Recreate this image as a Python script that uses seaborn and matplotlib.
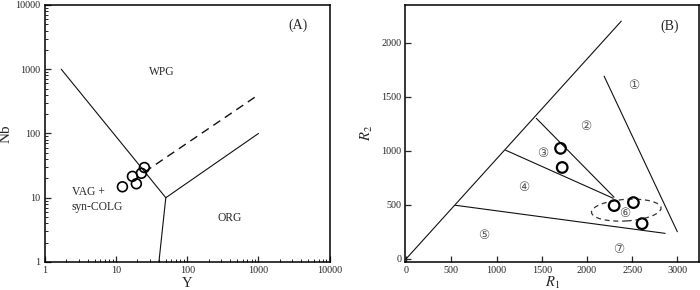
import numpy as np
import pandas as pd
import matplotlib
matplotlib.use("Agg")
import matplotlib.pyplot as plt
from matplotlib.patches import Ellipse
import seaborn as sns

# ---------------- data ----------------
# Panel A: Nb vs Y (log-log)
a_y = [12.3, 17.0, 19.3, 22.7, 25.0]
a_nb = [14.8, 21.5, 16.5, 24.0, 29.5]
# boundary lines (Pearce et al. 1984)
a_line1_y = [1.7, 50]
a_line1_nb = [1000, 10]
a_line2_y = [50, 1000]
a_line2_nb = [10, 100]
a_line3_y = [50, 40]
a_line3_nb = [10, 1]
a_dash_y = [25, 1000]
a_dash_nb = [25, 400]
a_labels = ["WPG", "VAG +\nsyn-COLG", "ORG"]
a_label_x = [44, 2.4, 390]
a_label_yv = [900, 9.3, 4.9]

# Panel B: R1-R2
b_r1 = [1708, 1726, 2301, 2514, 2610]
b_r2 = [1022, 845, 492, 520, 325]
b_lines = {
    "diag": ([0, 2380], [0, 2200]),
    "l1": ([2190, 3000], [1690, 250]),
    "l2": ([1440, 2300], [1300, 570]),
    "l3": ([1100, 2290], [1005, 560]),
    "l4": ([545, 2865], [495, 235]),
}
ell_center = (2435, 450)
ell_w, ell_h, ell_angle = 770, 200, 3
b_labels = ["①", "②", "③", "④", "⑤", "⑥", "⑦"]
b_label_x = [2521, 1988, 1509, 1299, 854, 2418, 2348]
b_label_y = [1601, 1223, 978, 659, 211, 421, 90]

# ---------------- style ----------------
sns.set_style("ticks")
plt.rcParams["font.family"] = ["Liberation Serif", "DejaVu Sans"]
plt.rcParams["mathtext.fontset"] = "stix"

fig = plt.figure(figsize=(7, 2.9), dpi=100)
axA = fig.add_axes([0.064, 0.0966, 0.407, 0.8864])
axB = fig.add_axes([0.579, 0.0966, 0.4196, 0.8864])

lc = "#111111"
for ax in (axA, axB):
    for s in ax.spines.values():
        s.set_linewidth(1.1)
        s.set_color("black")

# ---- Panel A ----
axA.set_xscale("log")
axA.set_yscale("log")
axA.set_xlim(1, 10000)
axA.set_ylim(1, 10000)
axA.plot(a_line1_y, a_line1_nb, color=lc, lw=0.8)
axA.plot(a_line2_y, a_line2_nb, color=lc, lw=0.8)
axA.plot(a_line3_y, a_line3_nb, color=lc, lw=0.8)
axA.plot(a_dash_y, a_dash_nb, color=lc, lw=1.0, ls=(0, (6, 4)))
dfa = pd.DataFrame({"Y": a_y, "Nb": a_nb})
sns.scatterplot(data=dfa, x="Y", y="Nb", ax=axA, s=50, facecolor="none",
                edgecolor="black", linewidth=1.2, zorder=5)
for t, x, y in zip(a_labels, a_label_x, a_label_yv):
    axA.text(x, y, t, fontsize=8.3, ha="left" if "VAG" in t else "center",
             va="center", linespacing=1.3)
axA.text(0.89, 0.92, "(A)", transform=axA.transAxes, fontsize=10,
         ha="center", va="center")
axA.set_xticks([1, 10, 100, 1000, 10000])
axA.set_xticklabels(["1", "10", "100", "1000", "10000"])
axA.set_yticks([1, 10, 100, 1000, 10000])
axA.set_yticklabels(["1", "10", "100", "1000", "10000"])
axA.tick_params(which="major", direction="in", length=4, width=0.9,
                labelsize=7.3, top=False, right=False, pad=3)
axA.tick_params(which="minor", direction="in", length=2.5, width=0.7,
                top=False, right=False)
axA.set_xlabel("Y", fontsize=10.5, labelpad=1)
axA.set_ylabel("Nb", fontsize=11, labelpad=2)

# ---- Panel B ----
axB.set_xlim(-10, 3240)
axB.set_ylim(-30, 2350)
for key, (xs, ys) in b_lines.items():
    axB.plot(xs, ys, color=lc, lw=0.8)
axB.add_patch(Ellipse(ell_center, ell_w, ell_h, angle=ell_angle, fill=False,
                      edgecolor="#333333", lw=0.9, ls=(0, (4, 3))))
dfb = pd.DataFrame({"R1": b_r1, "R2": b_r2})
sns.scatterplot(data=dfb, x="R1", y="R2", ax=axB, s=58, facecolor="none",
                edgecolor="black", linewidth=1.6, zorder=5)
for t, x, y in zip(b_labels, b_label_x, b_label_y):
    axB.text(x, y, t, fontsize=9, ha="center", va="center",
             color="#555555", family=["DejaVu Sans"])
axB.text(2915, 2155, "(B)", fontsize=10, ha="center", va="center")
axB.set_xticks([0, 500, 1000, 1500, 2000, 2500, 3000])
axB.set_yticks([0, 500, 1000, 1500, 2000])
axB.tick_params(which="major", direction="in", length=4, width=0.9,
                labelsize=7.3, top=False, right=False, pad=3)
axB.set_xlabel("$R_1$", fontsize=10.5, labelpad=0)
axB.set_ylabel("$R_2$", fontsize=10.5, labelpad=4)

fig.savefig("out.png", dpi=100)
